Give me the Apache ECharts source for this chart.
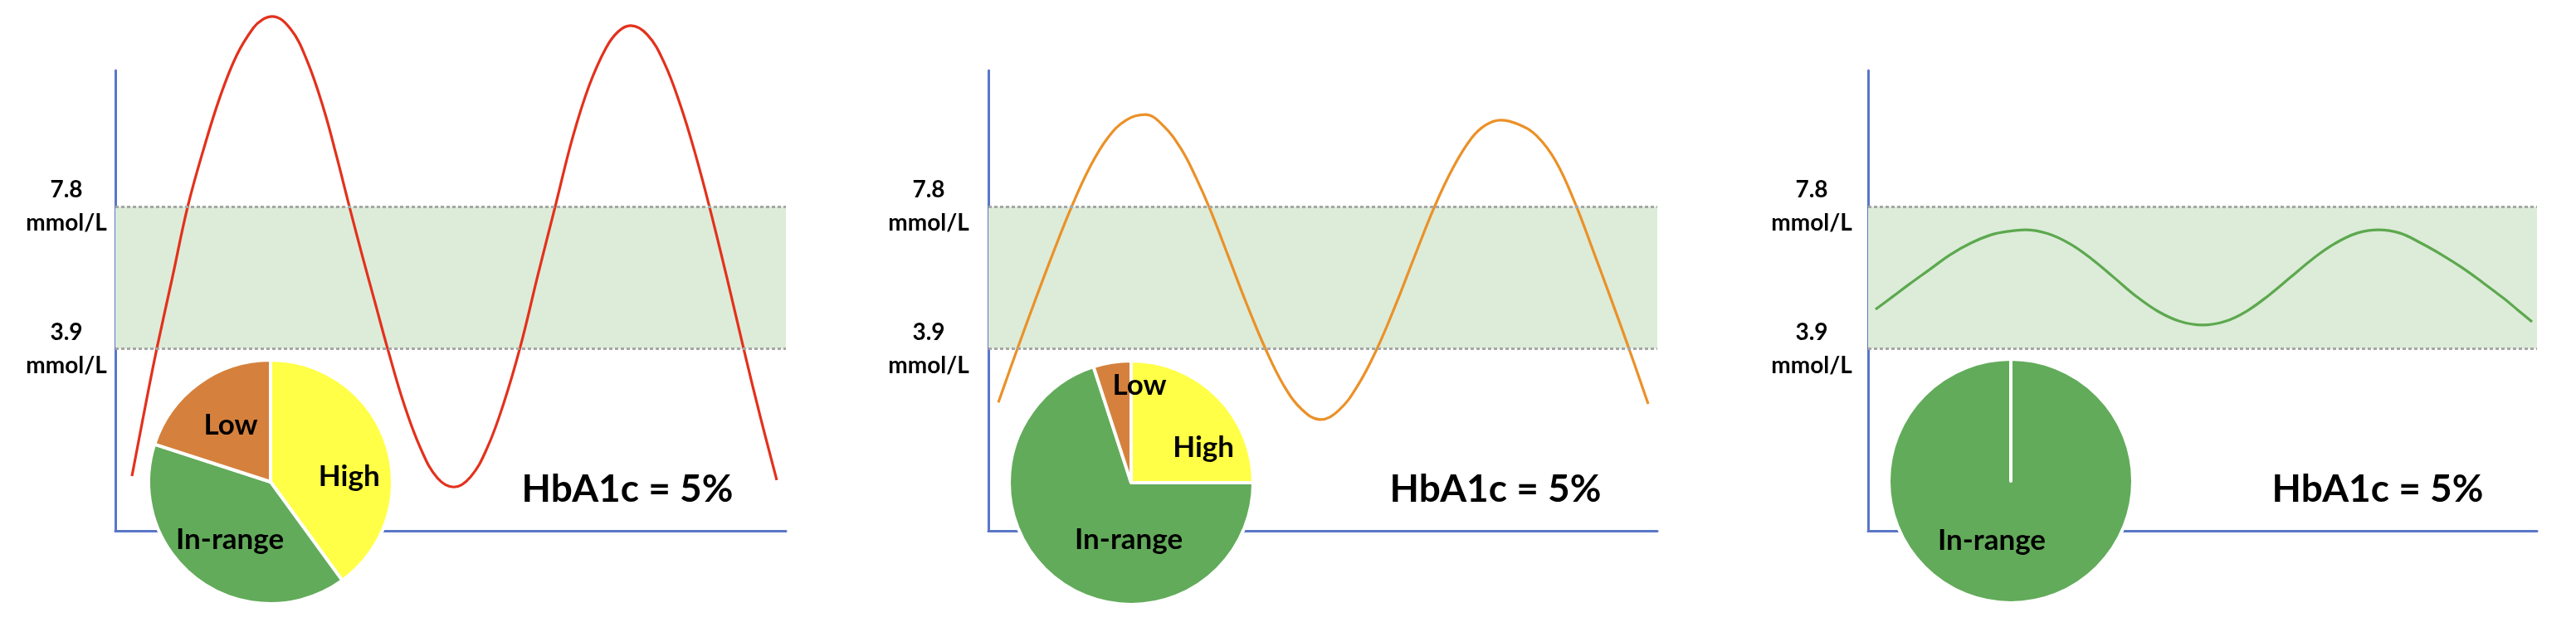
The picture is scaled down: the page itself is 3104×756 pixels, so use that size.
<!DOCTYPE html>
<html>
<head>
<meta charset="utf-8">
<script src="https://cdn.jsdelivr.net/npm/echarts@6/dist/echarts.min.js"></script>
<style>
html,body{margin:0;padding:0;background:#fff;}
#chart{width:3104px;height:756px;}
</style>
</head>
<body>
<div id="chart"></div>
<script>
// ---- data (x: hours 0-24, y: glucose mmol/L) ----
const rangeLimits = [3.9, 7.8];
const axisTickLabels = ['3.9', '7.8'];
const unitLabel = 'mmol/L';
const hba1cText = 'HbA1c = 5%';

const redX = [0.594,1.129,1.485,2.050,2.584,3.149,3.743,4.337,4.931,5.257,5.614,6.267,6.861,7.455,7.901,8.376,8.852,9.297,9.743,10.337,10.931,11.525,12.119,12.713,13.307,13.901,14.495,15.119,15.772,16.366,16.960,17.554,18.000,18.445,19.040,19.634,20.228,20.762,21.267,21.891,22.485,23.079,23.673];
const redY = [0.41,2.55,3.91,5.89,7.78,9.35,10.80,11.94,12.69,12.92,13.01,12.67,11.80,10.48,9.23,7.80,6.41,5.16,3.91,2.37,1.16,0.36,0.11,0.39,1.18,2.41,3.96,5.91,7.89,9.69,11.12,12.14,12.60,12.76,12.51,11.76,10.57,9.23,7.78,5.84,3.91,2.05,0.30];

const orangeX = [0.357,1.012,1.668,2.323,2.978,3.633,4.288,4.943,5.628,6.283,6.938,7.444,7.950,8.606,9.261,9.946,10.601,11.256,11.911,12.566,13.251,13.936,14.620,15.305,16.020,16.675,17.330,17.836,18.372,19.028,19.683,20.367,21.052,21.707,22.333,22.958,23.673];
const orangeY = [2.43,3.84,5.21,6.53,7.78,8.87,9.69,10.17,10.32,10.01,9.35,8.60,7.73,6.44,5.14,3.89,2.89,2.23,1.96,2.21,2.89,3.89,5.12,6.46,7.82,8.87,9.67,10.03,10.17,10.05,9.73,9.03,7.89,6.57,5.28,3.96,2.39];

const greenX = [0.268,0.864,1.459,2.203,2.948,3.692,4.437,5.032,5.628,6.432,7.236,8.010,8.814,9.618,10.392,11.196,12.000,12.804,13.578,14.382,15.156,15.960,16.735,17.539,18.313,19.087,19.831,20.576,21.320,22.065,22.809,23.315,23.822];
const greenY = [4.98,5.32,5.66,6.07,6.48,6.80,7.03,7.12,7.16,7.06,6.78,6.37,5.86,5.34,4.93,4.65,4.55,4.65,4.93,5.37,5.86,6.37,6.78,7.07,7.16,7.07,6.80,6.48,6.12,5.71,5.28,4.96,4.64];

const pieCategories = ['High', 'In-range', 'Low'];
const pie1Values = [40, 40, 20];
const pie2Values = [25, 70, 5];
const pie3Values = [0, 100, 0];

// ---- styles / layout ----
const FONT = 'Lato, "Open Sans", sans-serif';
const pieColors = ['#FFFF47', '#62AB5A', '#D5813D'];
const lineColors = ['#E3311C', '#EB9128', '#5DA84E'];
const axisColor = '#5A76C6';
const grids = [
  {left:139, top:85, width:808, height:555},
  {left:1191, top:85, width:806, height:555},
  {left:2251, top:85, width:806, height:555}
];
const labelMargins = [59, 72, 68];
const pieCenters = [[326,581],[1363,582],[2423,580]];
const pieLabelOffsets = [
  [[22,17],[-4,8],[-3,-6]],
  [[33,12],[42,7],[22,-42]],
  [[0,0],[-23,-5],[0,0]]
];
const textCenters = [756, 1802, 2865];

const lineSets = [[redX, redY], [orangeX, orangeY], [greenX, greenY]];
const pieSets = [pie1Values, pie2Values, pie3Values];

const option = {
  animation: false,
  backgroundColor: '#fff',
  grid: grids.map(g => Object.assign({containLabel:false}, g)),
  xAxis: grids.map((g, i) => ({
    type: 'value', gridIndex: i, min: 0, max: 24,
    axisLine: {show: true, onZero: false, lineStyle: {color: axisColor, width: 3}},
    axisTick: {show: false}, axisLabel: {show: false}, splitLine: {show: false}
  })),
  yAxis: grids.map((g, i) => ({
    type: 'value', gridIndex: i, min: -1.09, max: 11.53,
    axisLine: {show: true, lineStyle: {color: axisColor, width: 3}},
    axisTick: {show: false}, splitLine: {show: false},
    axisLabel: {
      show: true,
      customValues: rangeLimits,
      formatter: v => axisTickLabels[rangeLimits.indexOf(v)] + '\n' + unitLabel,
      fontFamily: FONT, fontWeight: 'bold', fontSize: 28, lineHeight: 40,
      color: '#000', align: 'center', margin: labelMargins[i]
    }
  })),
  series: [],
  graphic: textCenters.map(x => ({
    type: 'text', x: x, y: 590, z: 100,
    style: {text: hba1cText, font: 'bold 46px ' + FONT, fill: '#000', align: 'center', verticalAlign: 'middle'}
  }))
};

lineSets.forEach(([xs, ys], i) => {
  option.series.push({
    type: 'line', xAxisIndex: i, yAxisIndex: i,
    data: xs.map((x, k) => [x, ys[k]]),
    smooth: 0.4, showSymbol: false, symbol: 'none', clip: false,
    lineStyle: {color: lineColors[i], width: 3.2},
    z: 4,
    markArea: {
      silent: true,
      itemStyle: {color: '#DCECD9'},
      data: [[{xAxis: 0, yAxis: rangeLimits[0]}, {xAxis: 24, yAxis: rangeLimits[1]}]]
    },
    markLine: {
      silent: true, symbol: ['none','none'],
      label: {show: false},
      lineStyle: {color: '#A6A6A6', width: 3, type: [4, 3]},
      data: rangeLimits.map(v => [{coord: [0, v]}, {coord: [24, v]}])
    }
  });
});

pieSets.forEach((vals, i) => {
  option.series.push({
    type: 'pie', center: pieCenters[i], radius: 147,
    startAngle: 90, clockwise: true, z: 5,
    stillShowZeroSum: true,
    emphasis: {disabled: true},
    itemStyle: {borderColor: '#fff', borderWidth: 4},
    label: {position: 'inside', fontFamily: FONT, fontWeight: 'bold', fontSize: 35, color: '#000'},
    labelLine: {show: false},
    data: pieCategories.map((c, k) => ({
      name: c, value: vals[k],
      itemStyle: {color: pieColors[k]},
      label: {show: vals[k] > 0, formatter: '{b}', offset: pieLabelOffsets[i][k]}
    }))
  });
});

const chart = echarts.init(document.getElementById('chart'), null, {renderer: 'canvas'});
chart.setOption(option);
</script>
</body>
</html>
